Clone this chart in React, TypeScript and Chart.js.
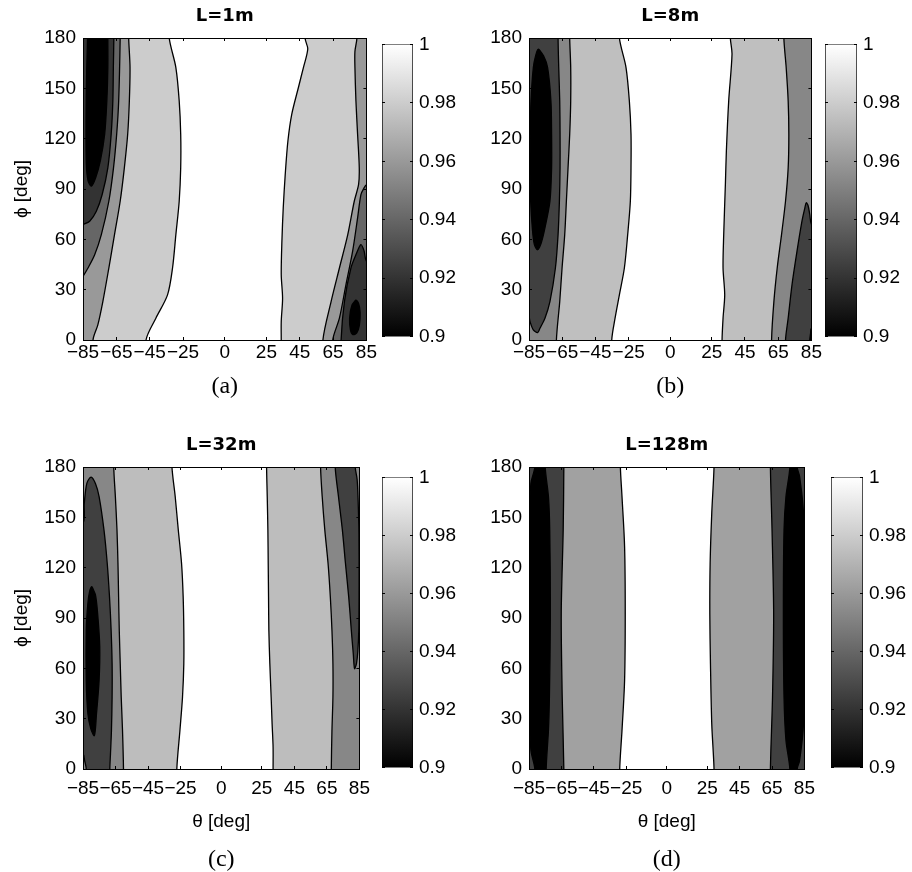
import React, { useEffect, useRef } from 'react';
import { Chart, registerables } from 'chart.js';

Chart.register(...registerables);

type Pt = [number, number];
type Region = { level: number; pts: Pt[] };

// ---------- axes, ticks, texts ----------
const THETA_TICKS = [-85, -65, -45, -25, 0, 25, 45, 65, 85];
const PHI_TICKS = [0, 30, 60, 90, 120, 150, 180];
const CBAR_TICKS = [0.9, 0.92, 0.94, 0.96, 0.98, 1];
const THETA_RANGE: Pt = [-85, 85];
const PHI_RANGE: Pt = [0, 180];
const CBAR_RANGE: Pt = [0.9, 1];
const PANEL_TITLES = ['L=1m', 'L=8m', 'L=32m', 'L=128m'];
const PANEL_LETTERS = ['(a)', '(b)', '(c)', '(d)'];
const X_TITLE = '\u03b8 [deg]';
const Y_TITLE = '\u03d5 [deg]';

// far-away closing corners (outside the plotted window)
const FL = -160, FR = 160, FB = -30, FT = 210;
const FRAME: Pt[] = [[FL, FB], [FR, FB], [FR, FT], [FL, FT]];

// ---------- (a) L=1m : contour regions [theta, phi] ----------
const A_WHITE: Pt[] = [[-48, -30], [-47.2, 0], [-41.3, 13], [-34.3, 26.9], [-31.3, 42.9], [-29.3, 62.8], [-27.3, 82.7], [-26.4, 102.6], [-26.4, 122.6], [-27.3, 142.5], [-29.3, 162.4], [-33.3, 180], [-35, 210],
  [50, 210], [48.2, 180], [49.8, 173.4], [47.2, 162.4], [44.2, 150.5], [40.2, 134.5], [37.9, 118.6], [36.3, 98.7], [35.1, 78.7], [34.3, 58.8], [33.9, 38.9], [34.7, 24.9], [33.9, 11], [33.9, 0], [33.9, -30]];
const A_GRAY_L: Pt[] = [[-79.5, -30], [-79, 0], [-76.1, 9], [-73.1, 22.9], [-69.5, 42.9], [-66.1, 62.8], [-62.7, 82.7], [-60.2, 102.6], [-58.2, 122.6], [-57.2, 142.5], [-56.8, 162.5], [-57.6, 180], [-58, 210], [FL, FT], [FL, FB]];
const A_MID_L: Pt[] = [[-62.5, 210], [-62.7, 180], [-63.6, 142.5], [-64.8, 122.6], [-66.7, 102.6], [-69.5, 82.7], [-74, 62.8], [-78, 50.8], [-82, 42.9], [-85, 37.9], [-92, 27], [FL, 20], [FL, FT]];
const A_DARK_L: Pt[] = [[-66.3, 210], [-66.5, 180], [-66.8, 162], [-67.1, 142.5], [-68.1, 122.6], [-70.1, 102.6], [-73.5, 86.7], [-77, 76.7], [-81, 70.8], [-85, 68.8], [-95, 64], [FL, 60], [FL, FT]];
const A_BLACK_L: Pt[] = [[-82.2, 210], [-82.3, 180], [-82.8, 160], [-83.2, 130], [-83, 105], [-82, 95], [-80, 91.7], [-77.4, 96.7], [-74.6, 106.7], [-72, 122.6], [-70.7, 142.5], [-70.1, 162.5], [-70.1, 180], [-70, 210]];
const A_GRAY_R: Pt[] = [[FR, FB], [58.5, -30], [58.9, 0], [63.8, 22.9], [68.8, 42.9], [73.8, 62.8], [77.7, 82.7], [80.3, 92.7], [80.7, 102.6], [79.7, 122.6], [78.7, 142.5], [78.1, 162.5], [78.1, 172], [79.3, 180], [79.5, 210], [FR, FT]];
const A_MID_R: Pt[] = [[FR, FB], [64, -30], [64.8, 0], [68.8, 13], [72.7, 32.9], [76.7, 52.8], [79.7, 72.8], [81.7, 86.7], [83.5, 90.5], [85, 92.5], [95, 96], [FR, 100]];
const A_DARK_R: Pt[] = [[FR, FB], [69.5, -30], [69.8, 0], [71.8, 22.9], [75.7, 42.9], [79, 51.5], [81.7, 56.8], [83.6, 53], [85, 47], [95, 38], [FR, 35]];
const A_BLACK_R: Pt[] = [[78.6, 23.8], [76.2, 20.5], [74.9, 13], [75.4, 6], [76.9, 3.2], [79.2, 4.2], [80.8, 9], [81.2, 16.5], [80.3, 21.8], [78.6, 23.8], [76.2, 20.5]];

// ---------- (b) L=8m ----------
const B_WHITE: Pt[] = [[-35.5, -30], [-35.2, 0], [-33.2, 13], [-30.6, 26.9], [-27.6, 42.9], [-25.6, 62.8], [-24, 82.7], [-23.6, 102.6], [-23.6, 122.6], [-24.6, 142.5], [-26.6, 162.4], [-30.6, 180], [-32, 210],
  [36.5, 210], [36.2, 180], [37.2, 170.4], [35.2, 142.5], [33.8, 112.6], [33.2, 92.7], [32.2, 62.8], [31.8, 42.9], [32.8, 26.9], [31.8, 13], [31.2, 0], [31, -30]];
const B_GRAY_L: Pt[] = [[-68.6, -30], [-68.5, 0], [-66.5, 22.9], [-65.1, 42.9], [-63.5, 62.8], [-62.5, 82.7], [-61.5, 102.6], [-60.5, 122.6], [-59.9, 142.5], [-59.9, 162.4], [-60.5, 180], [-60.7, 210], [FL, FT], [FL, FB]];
const B_DARK_L: Pt[] = [[-67.5, 210], [-67.5, 180], [-67.1, 162.4], [-66.5, 142.5], [-66.3, 122.6], [-66.3, 102.6], [-66.7, 82.7], [-67.5, 62.8], [-69.1, 42.9], [-72.4, 22.9], [-75.4, 13], [-78.4, 7], [-79.8, 4.4], [-82.4, 6], [-84.4, 11], [-85, 14], [-90, 24], [FL, 40], [FL, FT]];
const B_BLACK_L: Pt[] = [[-79.4, 173.4], [-76.3, 169.5], [-73.8, 162.4], [-71.8, 142.5], [-71.4, 122.6], [-71.4, 102.6], [-72.4, 82.7], [-75.4, 66.8], [-77.6, 58], [-79.8, 53.8], [-81.8, 57], [-83, 66.8], [-84, 82.7], [-84.4, 102.6], [-84.2, 122.6], [-83.8, 142.5], [-82.4, 162.4], [-81, 169.5], [-79.4, 173.4], [-76.3, 169.5]];
const B_GRAY_R: Pt[] = [[FR, FB], [61, -30], [61, 0], [62.4, 22.9], [64.4, 42.9], [67, 62.8], [69.4, 82.7], [71, 102.6], [71.4, 122.6], [71, 142.5], [69.8, 162.4], [68.4, 180], [68.2, 210], [FR, FT]];
const B_DARK_R: Pt[] = [[FR, FB], [69.2, -30], [69.4, 0], [71, 13], [73.3, 32.9], [76.3, 52.8], [79.3, 70.8], [81, 78.5], [81.9, 81.8], [83, 80], [84, 74.8], [85, 69], [95, 55], [FR, 50]];
const B_BLACK_R: Pt[] = [[FR, FB], [83.6, -30], [84, 0], [84.5, 4], [85, 7], [95, 14], [FR, 14]];

// ---------- (c) L=32m ----------
const C_WHITE: Pt[] = [[-27.4, -30], [-27.3, 0], [-25.4, 22.9], [-23.8, 42.9], [-23, 62.8], [-23, 82.7], [-23.4, 102.6], [-24.4, 122.6], [-26.4, 142.5], [-28.3, 162.4], [-30.3, 180], [-31, 210],
  [27.8, 210], [27.9, 180], [28.3, 162.4], [28.7, 142.5], [28.9, 122.6], [29.1, 102.6], [29.3, 82.7], [29.9, 62.8], [30.7, 42.9], [31.3, 26.9], [31.9, 13], [31.9, 0], [32, -30]];
const C_GRAY_L: Pt[] = [[-60, -30], [-60.1, 0], [-60.7, 22.9], [-61.5, 42.9], [-62.1, 62.8], [-62.7, 82.7], [-63.1, 102.6], [-63.5, 122.6], [-64.1, 142.5], [-65.1, 162.4], [-66.1, 180], [-66.3, 210], [FL, FT], [FL, FB]];
const C_DARK_L: Pt[] = [[FL, 14], [FL, 136], [-95, 140], [-85, 146.5], [-84.2, 158.5], [-82.6, 170.4], [-80, 174], [-77.3, 170], [-75.1, 162.4], [-72.1, 142.5], [-70.1, 122.6], [-68.7, 102.6], [-67.7, 82.7], [-67.1, 62.8], [-67.1, 42.9], [-67.5, 22.9], [-68.1, 9], [-68.5, 0], [-68.6, -30], [-83, -30], [-83, 0], [-84, 5], [-85, 9], [-95, 14]];
const C_BLACK_L: Pt[] = [[-79.6, 108.6], [-77.4, 104], [-76, 92.7], [-74.7, 72.8], [-75.1, 52.8], [-76.7, 32.9], [-78, 19.9], [-80.2, 24], [-82, 32.9], [-83, 52.8], [-83, 82.7], [-82, 98.7], [-80.9, 106], [-79.6, 108.6], [-77.4, 104]];
const C_GRAY_R: Pt[] = [[FR, FB], [67.7, -30], [67.7, 0], [68.1, 22.9], [68.7, 42.9], [68.7, 62.8], [68.1, 82.7], [67.1, 102.6], [65.7, 122.6], [63.7, 142.5], [62.1, 162.4], [61.1, 180], [61, 210], [FR, FT]];
const C_DARK_R: Pt[] = [[70, 210], [70.1, 180], [72.1, 162.4], [74.5, 142.5], [76.4, 122.6], [78.4, 102.6], [80, 82.7], [81.2, 68.8], [82, 59.8], [83.2, 63], [84, 70], [84.6, 82.7], [84.8, 110], [84.7, 140], [84.2, 160], [83.6, 172.4], [82.4, 180], [82, 210]];

// ---------- (d) L=128m ----------
const D_WHITE: Pt[] = [[-29, -30], [-29, 0], [-27.6, 22.9], [-26, 52.8], [-25.6, 92.7], [-26, 132.5], [-27.6, 162.4], [-28.6, 180], [-28.8, 210],
  [29.4, 210], [29.2, 180], [27.8, 152.5], [26.8, 122.6], [26.6, 92.7], [27, 62.8], [27.8, 26.9], [29.2, 0], [29.3, -30]];
const D_DARK_L: Pt[] = [[-63.5, -30], [-63.5, 0], [-64.5, 42.9], [-65.1, 92.7], [-63.9, 142.5], [-63.5, 180], [-63.5, 210], [FL, FT], [FL, FB]];
const D_BLACK_L: Pt[] = [[-81, 210], [-81.4, 180], [-83.8, 170.4], [-84.6, 152.5], [-84.8, 92.7], [-84.6, 32], [-83.8, 11], [-81.4, 0], [-81, -30], [-74.2, -30], [-74.4, 0], [-73, 22.9], [-72.4, 42.9], [-71.8, 92.7], [-72.2, 142.5], [-73, 162.4], [-75, 180], [-75.2, 210]];
const D_DARK_R: Pt[] = [[FR, FB], [64, -30], [64, 0], [65.3, 42.9], [66, 92.7], [65, 142.5], [64, 180], [64, 210], [FR, FT]];
const D_BLACK_R: Pt[] = [[75.8, 210], [76, 180], [73.6, 162.4], [72.4, 142.5], [72, 92.7], [72.4, 42.9], [73.6, 17], [76, 0], [76.2, -30], [80, -30], [80.5, 0], [82, 5], [84.4, 26.9], [84.8, 90], [84.4, 152.5], [82, 174.4], [80.5, 180], [80, 210]];

// region value (read from the fill shade) paired with its outline, bottom layer first
const PANEL_REGIONS: Region[][] = [
  [
    { level: 0.98, pts: FRAME }, { level: 1, pts: A_WHITE },
    { level: 0.96, pts: A_GRAY_L }, { level: 0.94, pts: A_MID_L }, { level: 0.92, pts: A_DARK_L }, { level: 0.9, pts: A_BLACK_L },
    { level: 0.96, pts: A_GRAY_R }, { level: 0.94, pts: A_MID_R }, { level: 0.92, pts: A_DARK_R }, { level: 0.9, pts: A_BLACK_R },
  ],
  [
    { level: 0.975, pts: FRAME }, { level: 1, pts: B_WHITE },
    { level: 0.953, pts: B_GRAY_L }, { level: 0.925, pts: B_DARK_L }, { level: 0.9, pts: B_BLACK_L },
    { level: 0.953, pts: B_GRAY_R }, { level: 0.925, pts: B_DARK_R }, { level: 0.9, pts: B_BLACK_R },
  ],
  [
    { level: 0.974, pts: FRAME }, { level: 1, pts: C_WHITE },
    { level: 0.953, pts: C_GRAY_L }, { level: 0.925, pts: C_DARK_L }, { level: 0.9, pts: C_BLACK_L },
    { level: 0.953, pts: C_GRAY_R }, { level: 0.925, pts: C_DARK_R },
  ],
  [
    { level: 0.963, pts: FRAME }, { level: 1, pts: D_WHITE },
    { level: 0.925, pts: D_DARK_L }, { level: 0.9, pts: D_BLACK_L },
    { level: 0.925, pts: D_DARK_R }, { level: 0.9, pts: D_BLACK_R },
  ],
];

// ---------- layout (page pixels) ----------
const LAYOUTS = [
  { area: [83, 38, 369, 340], cbar: [382, 38, 413, 343], row: 0, yTitle: true, xTitle: false },
  { area: [529, 38, 814, 340], cbar: [825, 38, 857, 343], row: 0, yTitle: false, xTitle: false },
  { area: [83, 467, 369, 769], cbar: [382, 471, 413, 774], row: 1, yTitle: true, xTitle: true },
  { area: [529, 467, 814, 769], cbar: [831, 471, 863, 774], row: 1, yTitle: false, xTitle: true },
];
const ROWS = [
  { top: 0, height: 400, titlePad: { top: 5.7, bottom: 10.7 }, xAxisH: 30, xTickPad: 4, subPad: { top: 5, bottom: 1 } },
  { top: 420, height: 452, titlePad: { top: 14.2, bottom: 11.2 }, xAxisH: 66, xTickPad: 11, subPad: { top: 13, bottom: 0 } },
];

const SANS = "'Liberation Sans', Arial, Helvetica, sans-serif";
const SERIF = "'Liberation Serif', 'Times New Roman', serif";
const TITLE_FONT = "'DejaVu Sans', sans-serif";
const FONT_SIZE = 19;
const TICK_LEN = 3;
const Y_AXIS_W = 83;
const RIGHT_PAD = 12;
const CB_LABEL_W = 50;

function grayOf(v: number) {
  const t = Math.max(0, Math.min(1, (v - CBAR_RANGE[0]) / (CBAR_RANGE[1] - CBAR_RANGE[0])));
  const g = Math.round(t * 255);
  return `rgb(${g},${g},${g})`;
}
function fmtTheta(v: number) {
  return v < 0 ? '\u2212' + Math.abs(v) : String(v);
}
function fmtCbar(v: number) {
  return String(Math.round(v * 100) / 100);
}
// keep the outline unsorted in x so the line controller draws every point
function unsorted(pts: Pt[]): Pt[] {
  for (let i = 1; i < pts.length; i++) if (pts[i][0] < pts[i - 1][0]) return pts;
  return [pts[pts.length - 1], ...pts.slice(0, -1)];
}
function fixedTicks(values: number[]) {
  return (scale: any) => {
    scale.ticks = values.map((value) => ({ value }));
  };
}
const tickGrid = { display: true, drawOnChartArea: false, drawTicks: true, tickLength: -TICK_LEN, tickColor: '#000', tickWidth: 1, color: '#000', z: 1 };
const blackBorder = { display: true, color: '#000', width: 1, z: 1 };
const labelFont = { family: SANS, size: FONT_SIZE };

function ContourChart({ idx }: { idx: number }) {
  const ref = useRef<HTMLCanvasElement>(null);
  const L = LAYOUTS[idx];
  const R = ROWS[L.row];
  const left = L.area[0] - Y_AXIS_W;
  const top = R.top;
  const width = L.area[2] - left + RIGHT_PAD;
  const height = R.height;

  useEffect(() => {
    if (!ref.current) return;
    const regions = PANEL_REGIONS[idx];
    const n = regions.length;
    const datasets = regions.map((r, i) => ({
      data: unsorted(r.pts).map(([x, y]) => ({ x, y })),
      fill: 'shape',
      backgroundColor: grayOf(r.level),
      borderColor: '#000',
      borderWidth: 1.3,
      pointRadius: 0,
      pointHoverRadius: 0,
      pointHitRadius: 0,
      tension: r.pts.length > 4 ? 0.3 : 0,
      order: n - i,
    }));
    const chart = new Chart(ref.current, {
      type: 'line',
      data: { datasets } as any,
      options: {
        responsive: false,
        animation: false,
        devicePixelRatio: 1,
        events: [],
        layout: { padding: { left: 0, right: RIGHT_PAD, top: 0, bottom: 0 } },
        plugins: {
          legend: { display: false },
          tooltip: { enabled: false },
          title: {
            display: true, fullSize: false, text: PANEL_TITLES[idx], color: '#000',
            font: { family: TITLE_FONT, size: 18, weight: 'bold', lineHeight: 1.2 },
            padding: R.titlePad,
          },
          subtitle: {
            display: true, position: 'bottom', fullSize: false, text: PANEL_LETTERS[idx], color: '#000',
            font: { family: SERIF, size: 24, weight: 'normal', lineHeight: 1 },
            padding: R.subPad,
          },
        },
        scales: {
          x: {
            type: 'linear', position: 'bottom', min: THETA_RANGE[0], max: THETA_RANGE[1],
            afterBuildTicks: fixedTicks(THETA_TICKS),
            afterFit: (s: any) => { s.height = R.xAxisH; },
            grid: tickGrid, border: blackBorder,
            ticks: { autoSkip: false, maxRotation: 0, minRotation: 0, padding: R.xTickPad, color: '#000', font: labelFont, callback: (v: any) => fmtTheta(Number(v)) },
            title: { display: L.xTitle, text: X_TITLE, color: '#000', font: labelFont, padding: { top: 0, bottom: 2 } },
          },
          x2: {
            type: 'linear', position: 'top', min: THETA_RANGE[0], max: THETA_RANGE[1],
            afterBuildTicks: fixedTicks(THETA_TICKS),
            afterFit: (s: any) => { s.height = 0; },
            grid: tickGrid, border: blackBorder, ticks: { display: false },
          },
          y: {
            type: 'linear', position: 'left', min: PHI_RANGE[0], max: PHI_RANGE[1],
            afterBuildTicks: fixedTicks(PHI_TICKS),
            afterFit: (s: any) => { s.width = Y_AXIS_W; },
            grid: tickGrid, border: blackBorder,
            ticks: { padding: 10, color: '#000', font: labelFont },
            title: { display: L.yTitle, text: Y_TITLE, color: '#000', font: labelFont, padding: { top: 10, bottom: 0 } },
          },
          y2: {
            type: 'linear', position: 'right', min: PHI_RANGE[0], max: PHI_RANGE[1],
            afterBuildTicks: fixedTicks(PHI_TICKS),
            afterFit: (s: any) => { s.width = 0; },
            grid: tickGrid, border: blackBorder, ticks: { display: false },
          },
        },
      } as any,
    });
    return () => chart.destroy();
  }, [idx]);

  return (
    <canvas
      ref={ref}
      width={width}
      height={height}
      style={{ position: 'absolute', left, top, width, height }}
    />
  );
}

function ColorBar({ idx }: { idx: number }) {
  const ref = useRef<HTMLCanvasElement>(null);
  const [l, t, r, b] = LAYOUTS[idx].cbar;
  const padL = 4, padT = 14, padB = 14;
  const left = l - padL;
  const top = t - padT;
  const width = r - l + padL + CB_LABEL_W;
  const height = b - t + padT + padB;

  useEffect(() => {
    if (!ref.current) return;
    const chart = new Chart(ref.current, {
      type: 'bar',
      data: {
        labels: [''],
        datasets: [{
          data: [CBAR_RANGE] as any,
          backgroundColor: (ctx: any) => {
            const area = ctx.chart.chartArea;
            if (!area) return '#808080';
            const g = ctx.chart.ctx.createLinearGradient(0, area.bottom, 0, area.top);
            g.addColorStop(0, grayOf(CBAR_RANGE[0]));
            g.addColorStop(1, grayOf(CBAR_RANGE[1]));
            return g;
          },
          borderColor: '#000',
          borderWidth: 1,
          borderSkipped: false,
          barPercentage: 1,
          categoryPercentage: 1,
        }],
      },
      options: {
        responsive: false,
        animation: false,
        devicePixelRatio: 1,
        events: [],
        layout: { padding: { left: padL, right: 0, top: padT, bottom: padB } },
        plugins: { legend: { display: false }, tooltip: { enabled: false } },
        scales: {
          x: { display: false },
          y: {
            type: 'linear', position: 'left', min: CBAR_RANGE[0], max: CBAR_RANGE[1],
            afterBuildTicks: fixedTicks(CBAR_TICKS),
            afterFit: (s: any) => { s.width = 0; },
            grid: tickGrid, border: { display: false }, ticks: { display: false },
          },
          y2: {
            type: 'linear', position: 'right', min: CBAR_RANGE[0], max: CBAR_RANGE[1],
            afterBuildTicks: fixedTicks(CBAR_TICKS),
            afterFit: (s: any) => { s.width = CB_LABEL_W; },
            grid: tickGrid, border: { display: false },
            ticks: { padding: TICK_LEN + 6, color: '#000', font: labelFont, callback: (v: any) => fmtCbar(Number(v)) },
          },
        },
      } as any,
    });
    return () => chart.destroy();
  }, [idx]);

  return (
    <canvas
      ref={ref}
      width={width}
      height={height}
      style={{ position: 'absolute', left, top, width, height }}
    />
  );
}

export default function App() {
  return (
    <div style={{ position: 'absolute', left: 0, top: 0, width: 912, height: 872, overflow: 'hidden', background: '#fff' }}>
      {LAYOUTS.map((_, i) => (
        <React.Fragment key={i}>
          <ContourChart idx={i} />
          <ColorBar idx={i} />
        </React.Fragment>
      ))}
    </div>
  );
}
